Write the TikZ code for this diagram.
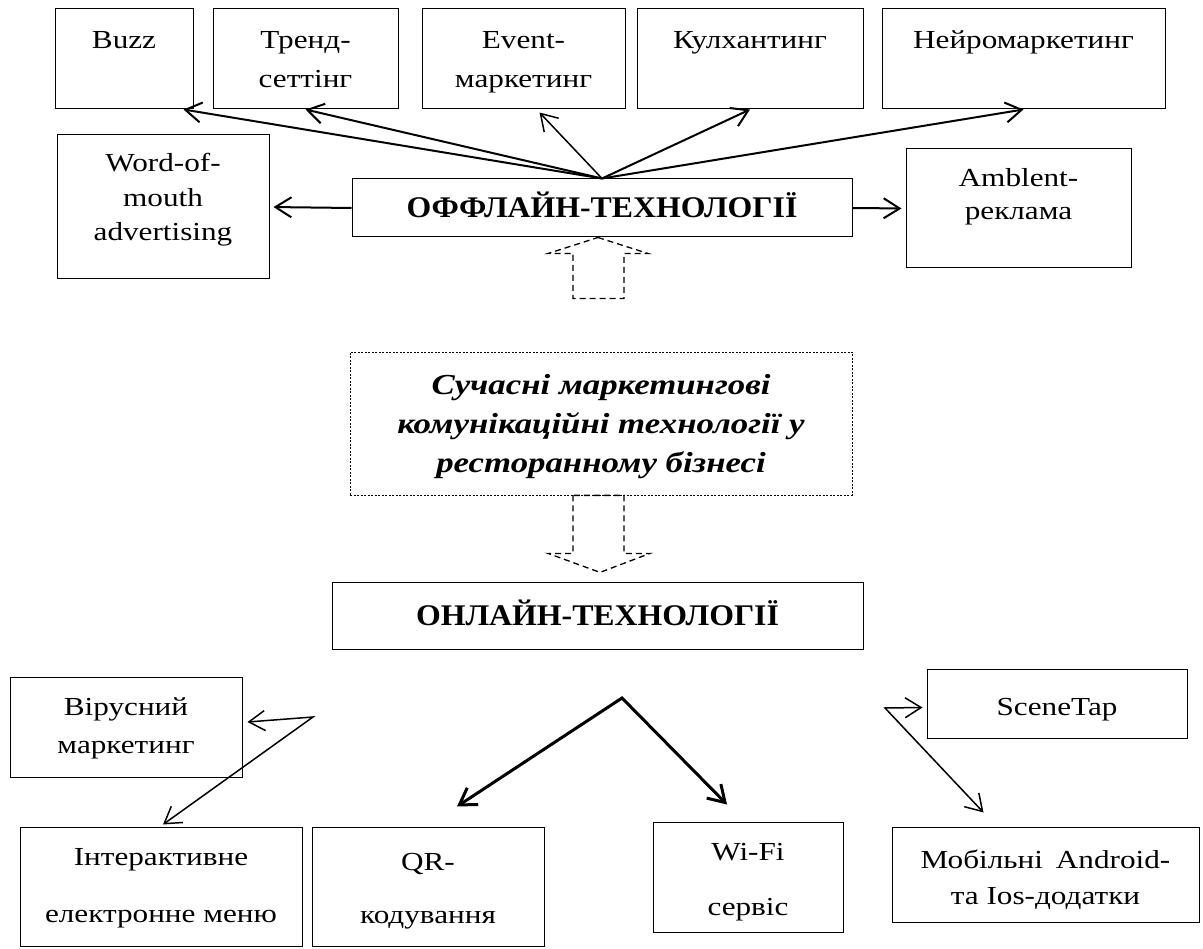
\documentclass[tikz,border=0pt]{standalone}
\usepackage{fontspec}
\setmainfont{Liberation Serif}[FakeStretch=1.2]
\newfontfamily\headfont{Liberation Serif}[FakeStretch=1.06]
\usetikzlibrary{arrows.meta,calc}

\tikzset{
  box/.style={draw, line width=1pt, align=center, inner sep=0pt,
              font=\fontsize{26}{39}\selectfont},
  headbox/.style={box, font=\headfont\fontsize{30}{36}\selectfont\bfseries},
  topicbox/.style={box, line width=0.8pt, dash pattern=on 2pt off 1.5pt,
                   font=\fontsize{29}{39}\selectfont\bfseries\itshape},
  link/.style={-{Straight Barb[length=16pt,width=20pt]}, line width=2pt},
  thinlink/.style={link, line width=1.5pt},
  fork/.style={{Straight Barb[length=16pt,width=20pt]}-{Straight Barb[length=16pt,width=20pt]},
               line width=#1, line join=miter},
  hollow/.style={line width=1.3pt, dash pattern=on 6pt off 4pt}
}

\begin{document}
\begin{tikzpicture}[x=1pt, y=-1pt]
\useasboundingbox (0,0) rectangle (1203,949);

% offline technologies
\node[box, minimum width=138pt, text height=40pt, text depth=60pt] (buzz) at (124,59) {Buzz};
\node[box, minimum width=185pt, text height=79pt, text depth=21pt] (trend) at (305.5,59) {Тренд-\\сеттінг};
\node[box, minimum width=203pt, text height=79pt, text depth=21pt] (event) at (523.5,59) {Event-\\маркетинг};
\node[box, minimum width=226pt, text height=40pt, text depth=60pt] (kulh) at (750,59) {Кулхантинг};
\node[box, minimum width=283pt, text height=40pt, text depth=60pt] (neuro) at (1023.5,59) {Нейромаркетинг};
\node[box, minimum width=212pt, text height=106pt, text depth=38pt,
      font=\fontsize{26}{34.5}\selectfont] (wom) at (163,207) {Word-of-\\mouth\\advertising};
\node[headbox, minimum width=500pt, text height=39pt, text depth=19pt] (off) at (602,208) {ОФФЛАЙН-ТЕХНОЛОГІЇ};
\node[box, minimum width=225pt, text height=71pt, text depth=48pt,
      font=\fontsize{26}{33}\selectfont] (amb) at (1018.5,208.5) {Amblent-\\реклама};

\draw[link] (off.north) -- ($(buzz.south east)+(-10,0)$);
\draw[link] (off.north) -- (trend.south);
\draw[thinlink] (off.north) -- ($(event.south)+(16,3)$);
\draw[link] (off.north) -- (kulh.south);
\draw[link] (off.north) -- (neuro.south);
\draw[link, shorten >=4pt] (off.west) -- (wom.east);
\draw[link, shorten >=4pt] (off.east) -- (amb.west);

% topic
\node[topicbox, minimum width=502pt, text height=121pt, text depth=22pt] (mid) at (601,423.5)
  {Сучасні маркетингові\\комунікаційні технології у\\ресторанному бізнесі};

\draw[hollow] ($(off.south)+(-4,0)$) -- ++(50,16) -- ++(-24,0) -- ++(0,45)
  -- ++(-51,0) -- ++(0,-45) -- ++(-25,0) -- cycle;
\draw[hollow] ($(mid.south)+(-28,0)$) -- ++(0,58) -- ++(-25,0) -- ++(52,19)
  -- ++(50,-19) -- ++(-26,0) -- ++(0,-58) -- cycle;

% online technologies
\node[headbox, minimum width=531pt, text height=43pt, text depth=24pt] (onl) at (597.5,615.5) {ОНЛАЙН-ТЕХНОЛОГІЇ};
\node[box, minimum width=232pt, text height=76pt, text depth=24pt,
      font=\fontsize{26}{38}\selectfont] (vir) at (126,727) {Вірусний\\маркетинг};
\node[box, minimum width=260pt, text height=46pt, text depth=23pt] (scene) at (1057,703.5) {SceneTap};
\node[box, minimum width=282pt, text height=95pt, text depth=24pt,
      font=\fontsize{26}{57}\selectfont] (inter) at (161,886.5) {Інтерактивне\\електронне меню};
\node[box, minimum width=232pt, text height=96pt, text depth=23pt,
      font=\fontsize{26}{53}\selectfont] (qr) at (428,886.5) {QR-\\кодування};
\node[box, minimum width=190pt, text height=93pt, text depth=17pt,
      font=\fontsize{26}{55}\selectfont] (wifi) at (748,877) {Wi-Fi\\сервіс};
\node[box, minimum width=307pt, text height=77pt, text depth=18pt,
      font=\fontsize{26}{36}\selectfont] (mob) at (1045.5,874.5) {Мобільні\hspace{0.5em}Android-\\та Ios-додатки};

\coordinate (virfork) at (313,717);
\coordinate (onlfork) at (622,698);
\coordinate (scenefork) at (885,708);

\draw[fork=1.5pt] ($(vir.east)+(5,-5)$) -- (virfork) -- ($(inter.north)+(2,-2)$);
\draw[fork=3pt] ($(qr.north)+(29,-20)$) -- (onlfork) -- ($(wifi.north)+(-21,-17)$);
\draw[fork=1.5pt] ($(scene.west)+(-4,4)$) -- (scenefork) -- ($(mob.north)+(-62,-14)$);

\end{tikzpicture}
\end{document}
